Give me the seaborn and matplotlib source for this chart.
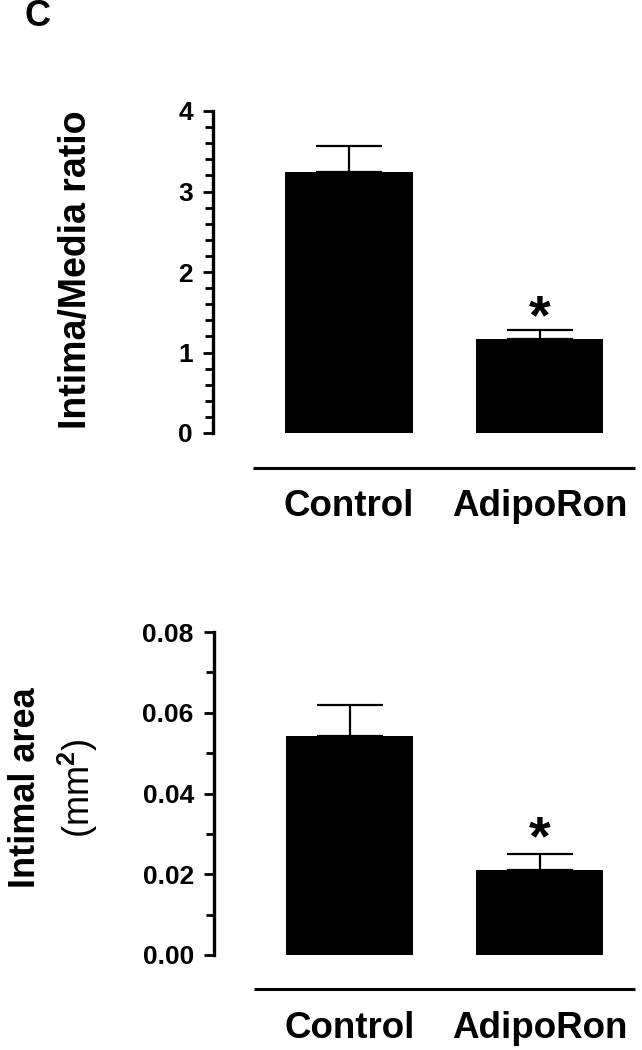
import numpy as np
import pandas as pd
import matplotlib
matplotlib.use("Agg")
import matplotlib.pyplot as plt
from matplotlib.ticker import MultipleLocator, FormatStrFormatter
import seaborn as sns

groups = ["Control", "AdipoRon"]
ratio_mean = [3.24, 1.17]
ratio_sem = [0.32, 0.11]
area_mean = [0.0543, 0.0210]
area_sem = [0.0076, 0.0040]

sns.set_style("ticks")
plt.rcParams['font.family'] = ['Liberation Sans', 'DejaVu Sans']
plt.rcParams['font.weight'] = 'bold'
plt.rcParams['text.color'] = 'black'
plt.rcParams['xtick.color'] = 'black'
plt.rcParams['ytick.color'] = 'black'
plt.rcParams['axes.edgecolor'] = 'black'
plt.rcParams['mathtext.fontset'] = 'custom'
plt.rcParams['mathtext.rm'] = 'Liberation Sans'

fig = plt.figure(figsize=(6.42, 10.5), dpi=100)
ax1 = fig.add_axes([213/642, 1 - 433/1050, 422/642, 322/1050])
ax2 = fig.add_axes([214/642, 1 - 955/1050, 421/642, 323/1050])


def panel(ax, means, sems, ymax, major, minor, fmt, star_y, line_y):
    df = pd.DataFrame({"group": groups, "value": means})
    sns.barplot(data=df, x="group", y="value", color="black", saturation=1,
                width=0.667, linewidth=0, ax=ax)
    ax.errorbar([0, 1], means, yerr=[[0, 0], sems], fmt="none", ecolor="black",
                elinewidth=1.6, capsize=23.8, capthick=1.6, clip_on=False)
    ax.text(1, star_y, "*", ha="center", va="center", fontsize=40, fontweight="bold")
    ax.set_xlim(-0.714, 1.501)
    ax.set_ylim(0, ymax)
    ax.yaxis.set_major_locator(MultipleLocator(major))
    ax.yaxis.set_minor_locator(MultipleLocator(minor))
    ax.yaxis.set_major_formatter(FormatStrFormatter(fmt))
    for s in ["top", "right", "bottom"]:
        ax.spines[s].set_visible(False)
    ax.spines["left"].set_linewidth(2.4)
    ax.tick_params(axis="y", which="major", length=7.5, width=2, pad=7, labelsize=19)
    ax.tick_params(axis="y", which="minor", length=5.5, width=2)
    ax.tick_params(axis="x", length=0, pad=40, labelsize=26.5)
    for t in ax.get_yticklabels() + ax.get_xticklabels():
        t.set_fontweight("bold")
    ax.set_xlabel("")
    ax.set_ylabel("")
    ax.plot([0.094, 1.0], [line_y, line_y], transform=ax.transAxes, color="black",
            lw=2.2, clip_on=False, solid_capstyle="butt")


panel(ax1, ratio_mean, ratio_sem, 4, 1, 0.2, "%d", 1.41, -0.110)
panel(ax2, area_mean, area_sem, 0.08, 0.02, 0.01, "%.2f", 0.0283, -0.105)

ax1.text(-0.325, 0.506, "Intima/Media ratio", transform=ax1.transAxes, rotation=90,
         ha="center", va="center", fontsize=27, fontweight="bold")
ax2.text(-0.447, 0.517, "Intimal area", transform=ax2.transAxes, rotation=90,
         ha="center", va="center", fontsize=26, fontweight="bold")
ax2.text(-0.323, 0.517, "(mm$^2$)", transform=ax2.transAxes, rotation=90,
         ha="center", va="center", fontsize=26, fontweight="normal")

fig.text(38/642, 1 - 17/1050, "C", ha="center", va="center", fontsize=26, fontweight="bold")

fig.savefig("out.png", dpi=100)
